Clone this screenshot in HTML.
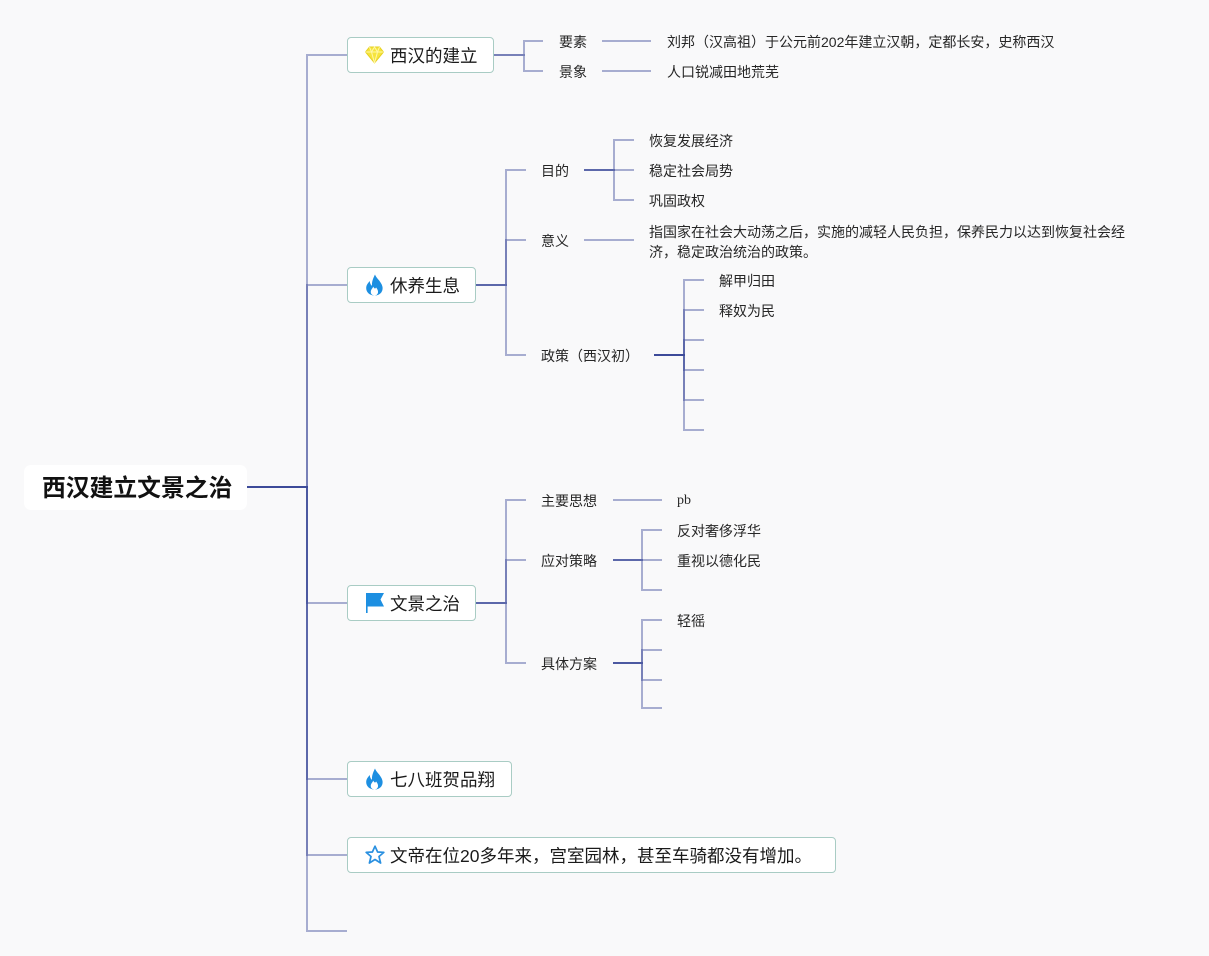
<!DOCTYPE html>
<html><head><meta charset="utf-8">
<style>
html,body{margin:0;padding:0;}
body{width:1209px;height:956px;background:#f9f9fa;position:relative;overflow:hidden;
font-family:"Liberation Sans","Noto Sans CJK SC",sans-serif;color:#1e1e1e;}
.t{position:absolute;font-size:14px;line-height:20px;white-space:nowrap;color:#262626;margin-top:1px;}
.box{position:absolute;box-sizing:border-box;background:#fff;border:1.5px solid #a9ccc4;border-radius:4px;height:36px;}
.box .lbl{position:absolute;left:42px;top:1.5px;line-height:33px;font-size:17.5px;white-space:nowrap;color:#1a1a1a;}
.box svg{position:absolute;left:17px;}
.root{position:absolute;left:24px;top:465px;width:223px;height:45px;background:#fff;border-radius:7px;}
.root span{position:absolute;left:18px;top:1px;line-height:45px;font-size:23.8px;font-weight:bold;color:#111;white-space:nowrap;}
</style></head><body>
<svg width="1209" height="956" style="position:absolute;left:0;top:0" fill="none" stroke="rgba(55,70,150,0.42)" stroke-width="2">
<!-- root -->
<path d="M247 487H307V55H347"/>
<path d="M247 487H307V285H347"/>
<path d="M247 487H307V603H347"/>
<path d="M247 487H307V779H347"/>
<path d="M247 487H307V855H347"/>
<path d="M247 487H307V931H347"/>
<!-- A -->
<path d="M494 55H524V41H543"/>
<path d="M494 55H524V71H543"/>
<path d="M602 41H651"/>
<path d="M602 71H651"/>
<!-- B -->
<path d="M476 285H506V170H526"/>
<path d="M476 285H506V240H526"/>
<path d="M476 285H506V355H526"/>
<path d="M584 170H614V140H634"/>
<path d="M584 170H614V170H634"/>
<path d="M584 170H614V200H634"/>
<path d="M584 240H634"/>
<path d="M654 355H684V280H704"/>
<path d="M654 355H684V310H704"/>
<path d="M654 355H684V340H704"/>
<path d="M654 355H684V370H704"/>
<path d="M654 355H684V400H704"/>
<path d="M654 355H684V430H704"/>
<!-- C -->
<path d="M476 603H506V500H526"/>
<path d="M476 603H506V560H526"/>
<path d="M476 603H506V663H526"/>
<path d="M613 500H662"/>
<path d="M613 560H642V530H662"/>
<path d="M613 560H642V560H662"/>
<path d="M613 560H642V590H662"/>
<path d="M613 663H642V620H662"/>
<path d="M613 663H642V650H662"/>
<path d="M613 663H642V680H662"/>
<path d="M613 663H642V708H662"/>
</svg>

<div class="root"><span>西汉建立文景之治</span></div>

<!-- A -->
<div class="box" style="left:347px;top:37px;width:147px;">
<svg width="19" height="18" style="top:8px" viewBox="0 0 19 18">
<polygon points="4.5,1 14.5,1 18.5,6 9.5,17 0.5,6" fill="#f6e43c" stroke="#e6d020" stroke-width="1"/>
<polyline points="0.5,6 18.5,6" stroke="#fff7a8" stroke-width="1" fill="none"/>
<polyline points="4.5,1 6.5,6 9.5,17 12.5,6 14.5,1" stroke="#fff7a8" stroke-width="1" fill="none"/>
<polyline points="6.5,6 9.5,1 12.5,6" stroke="#fff7a8" stroke-width="1" fill="none"/>
</svg>
<span class="lbl">西汉的建立</span></div>
<div class="t" style="left:559px;top:31px">要素</div>
<div class="t" style="left:559px;top:61px">景象</div>
<div class="t" style="left:667px;top:31px">刘邦（汉高祖）于公元前202年建立汉朝，定都长安，史称西汉</div>
<div class="t" style="left:667px;top:61px">人口锐减田地荒芜</div>

<!-- B -->
<div class="box" style="left:347px;top:267px;width:129px;">
<svg width="19" height="22" style="top:6px" viewBox="0 0 19 22">
<path d="M10 0.5C11 4 16.5 7.5 17.5 13C18.3 18 14.5 21.5 9.5 21.5C4.5 21.5 1 18.2 1.2 13.8C1.4 10.5 3.5 8.5 4.8 7C4.9 9.5 5.8 11 7 11.8C6.6 7.5 8.5 3.5 10 0.5Z" fill="#1d8fe1"/>
<path d="M9.5 21.5C7 21.5 5.6 19.6 5.8 17.5C6 15.5 7.6 14.2 8.3 12.6C9 14.6 10.6 15.2 11 13.4C12.6 15.2 13.2 17 13 18.5C12.7 20.4 11.3 21.5 9.5 21.5Z" fill="#ffffff"/>
</svg>
<span class="lbl">休养生息</span></div>
<div class="t" style="left:541px;top:160px">目的</div>
<div class="t" style="left:541px;top:230px">意义</div>
<div class="t" style="left:541px;top:345px">政策（西汉初）</div>
<div class="t" style="left:649px;top:130px">恢复发展经济</div>
<div class="t" style="left:649px;top:160px">稳定社会局势</div>
<div class="t" style="left:649px;top:190px">巩固政权</div>
<div class="t" style="left:649px;top:221px">指国家在社会大动荡之后，实施的减轻人民负担，保养民力以达到恢复社会经<br>济，稳定政治统治的政策。</div>
<div class="t" style="left:719px;top:270px">解甲归田</div>
<div class="t" style="left:719px;top:300px">释奴为民</div>

<!-- C -->
<div class="box" style="left:347px;top:585px;width:129px;">
<svg width="20" height="22" style="top:6px" viewBox="0 0 20 22">
<rect x="1" y="1" width="1.6" height="20" fill="#1d8fe1"/>
<path d="M1.5 1H19L15.5 7.5L19 14.5H1.5Z" fill="#1d8fe1"/>
</svg>
<span class="lbl">文景之治</span></div>
<div class="t" style="left:541px;top:490px">主要思想</div>
<div class="t" style="left:541px;top:550px">应对策略</div>
<div class="t" style="left:541px;top:653px">具体方案</div>
<div class="t" style="left:677px;top:490px;font-family:'Liberation Serif',serif;">pb</div>
<div class="t" style="left:677px;top:520px">反对奢侈浮华</div>
<div class="t" style="left:677px;top:550px">重视以德化民</div>
<div class="t" style="left:677px;top:610px">轻徭</div>

<!-- D -->
<div class="box" style="left:347px;top:761px;width:165px;">
<svg width="19" height="22" style="top:6px" viewBox="0 0 19 22">
<path d="M10 0.5C11 4 16.5 7.5 17.5 13C18.3 18 14.5 21.5 9.5 21.5C4.5 21.5 1 18.2 1.2 13.8C1.4 10.5 3.5 8.5 4.8 7C4.9 9.5 5.8 11 7 11.8C6.6 7.5 8.5 3.5 10 0.5Z" fill="#1d8fe1"/>
<path d="M9.5 21.5C7 21.5 5.6 19.6 5.8 17.5C6 15.5 7.6 14.2 8.3 12.6C9 14.6 10.6 15.2 11 13.4C12.6 15.2 13.2 17 13 18.5C12.7 20.4 11.3 21.5 9.5 21.5Z" fill="#ffffff"/>
</svg>
<span class="lbl">七八班贺品翔</span></div>

<!-- E -->
<div class="box" style="left:347px;top:837px;width:489px;">
<svg width="20" height="20" style="top:7px" viewBox="0 0 20 20">
<polygon points="10,1.2 12.6,7 18.8,7.4 14,11.5 15.6,18 10,14.5 4.4,18 6,11.5 1.2,7.4 7.4,7" fill="none" stroke="#2a90e0" stroke-width="1.7" stroke-linejoin="round"/>
</svg>
<span class="lbl">文帝在位20多年来，宫室园林，甚至车骑都没有增加。</span></div>

</body></html>
